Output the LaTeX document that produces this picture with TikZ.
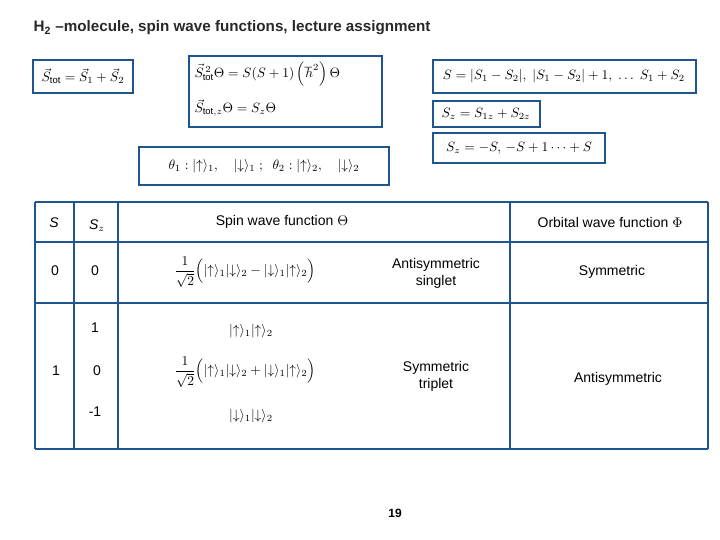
\documentclass[tikz,border=0pt]{standalone}
\usepackage{amsmath}
\usepackage{graphicx}
\usepackage{fontspec}
\setmainfont{Liberation Sans}
\newcommand\tT[1]{\scalebox{1.4}{\begin{tabular}{@{}c@{}}#1\end{tabular}}}
\newcommand\mM[1]{\scalebox{1.35}{#1}}
\begin{document}
\begin{tikzpicture}[x=1pt,y=-1pt,
  bx/.style={draw=boxblue,line width=2.2pt},
  tl/.style={draw=boxblue,line width=2pt},
  tx/.style={text=black,align=center},
  mth/.style={text=black}]
\definecolor{boxblue}{RGB}{30,85,145}
\definecolor{ttl}{RGB}{40,40,40}
\useasboundingbox (0,0) rectangle (720,540);
\node[anchor=west,text=ttl] (title) at (30,28) {\scalebox{1.52}{\bfseries H$_\mathbf{2}$ --molecule, spin wave functions, lecture assignment}};
% boxes
\draw[bx] (33,60) rectangle (133,93);
\node[mth] (e1) at (83,76) {\mM{$\vec S_{\rm tot}=\vec S_1+\vec S_2$}};
\draw[bx] (189,56) rectangle (382,127);
\node[mth,anchor=west] (e2) at (191,74) {\mM{$\vec S_{\rm tot}^{\,2}\Theta=S(S+1)\left(\hbar^2\right)\Theta$}};
\node[mth,anchor=west] (e3) at (191,108) {\mM{$\vec S_{{\rm tot},z}\Theta=S_z\Theta$}};
\draw[bx] (433,60) rectangle (696,93);
\node[mth] (e4) at (564,76) {\mM{$S=|S_1-S_2|,\ |S_1-S_2|+1,\ \dots\ S_1+S_2$}};
\draw[bx] (433,101) rectangle (540,127);
\node[mth] (e5) at (486,114) {\mM{$S_z=S_{1z}+S_{2z}$}};
\draw[bx] (433,133) rectangle (605,163);
\node[mth] (e6) at (519,148) {\mM{$S_z=-S,\,-S+1\dots+S$}};
\draw[bx] (139,147) rectangle (389,185);
\node[mth] (e7) at (264,166) {\mM{$\theta_1:|{\uparrow}\rangle_1,\quad|{\downarrow}\rangle_1\ ;\ \ \theta_2:|{\uparrow}\rangle_2,\quad|{\downarrow}\rangle_2$}};
% table
\draw[tl] (35,202) -- (708,202);
\draw[tl] (35,242) -- (708,242);
\draw[tl] (35,303) -- (708,303);
\draw[tl] (35,449) -- (708,449);
\foreach \x in {35,74,118,510,708} \draw[tl] (\x,202) -- (\x,449);
\node[tx] (hS) at (54,224) {\tT{\textit{S}}};
\node[tx] (hSz) at (97,226) {\tT{\textit{S}$_z$}};
\node[tx] (hSp) at (282,222) {\tT{Spin wave function $\Theta$}};
\node[tx] (hOr) at (610,224) {\tT{Orbital wave function $\Phi$}};
\node[tx] (s0) at (55,272) {\tT{0}};
\node[tx] (z0) at (95,272) {\tT{0}};
\node[mth] (f1) at (245,272) {\mM{$\dfrac{1}{\sqrt2}\Big(|{\uparrow}\rangle_1|{\downarrow}\rangle_2-|{\downarrow}\rangle_1|{\uparrow}\rangle_2\Big)$}};
\node[tx] (as) at (436,274) {\tT{Antisymmetric\\singlet}};
\node[tx] (sy) at (612,272) {\tT{Symmetric}};
\node[tx] (z1) at (95,329) {\tT{1}};
\node[tx] (s1) at (56,372) {\tT{1}};
\node[tx] (zz) at (97,372) {\tT{0}};
\node[tx] (zm) at (95,413) {\tT{-1}};
\node[mth] (f2) at (251,331) {\mM{$|{\uparrow}\rangle_1|{\uparrow}\rangle_2$}};
\node[mth] (f3) at (245,372) {\mM{$\dfrac{1}{\sqrt2}\Big(|{\uparrow}\rangle_1|{\downarrow}\rangle_2+|{\downarrow}\rangle_1|{\uparrow}\rangle_2\Big)$}};
\node[mth] (f4) at (251,416) {\mM{$|{\downarrow}\rangle_1|{\downarrow}\rangle_2$}};
\node[tx] (st) at (436,377) {\tT{Symmetric\\triplet}};
\node[tx] (an) at (618,379) {\tT{Antisymmetric}};
\node (pg) at (395,513) {\scalebox{1.2}{\bfseries 19}};
\end{tikzpicture}
\end{document}
